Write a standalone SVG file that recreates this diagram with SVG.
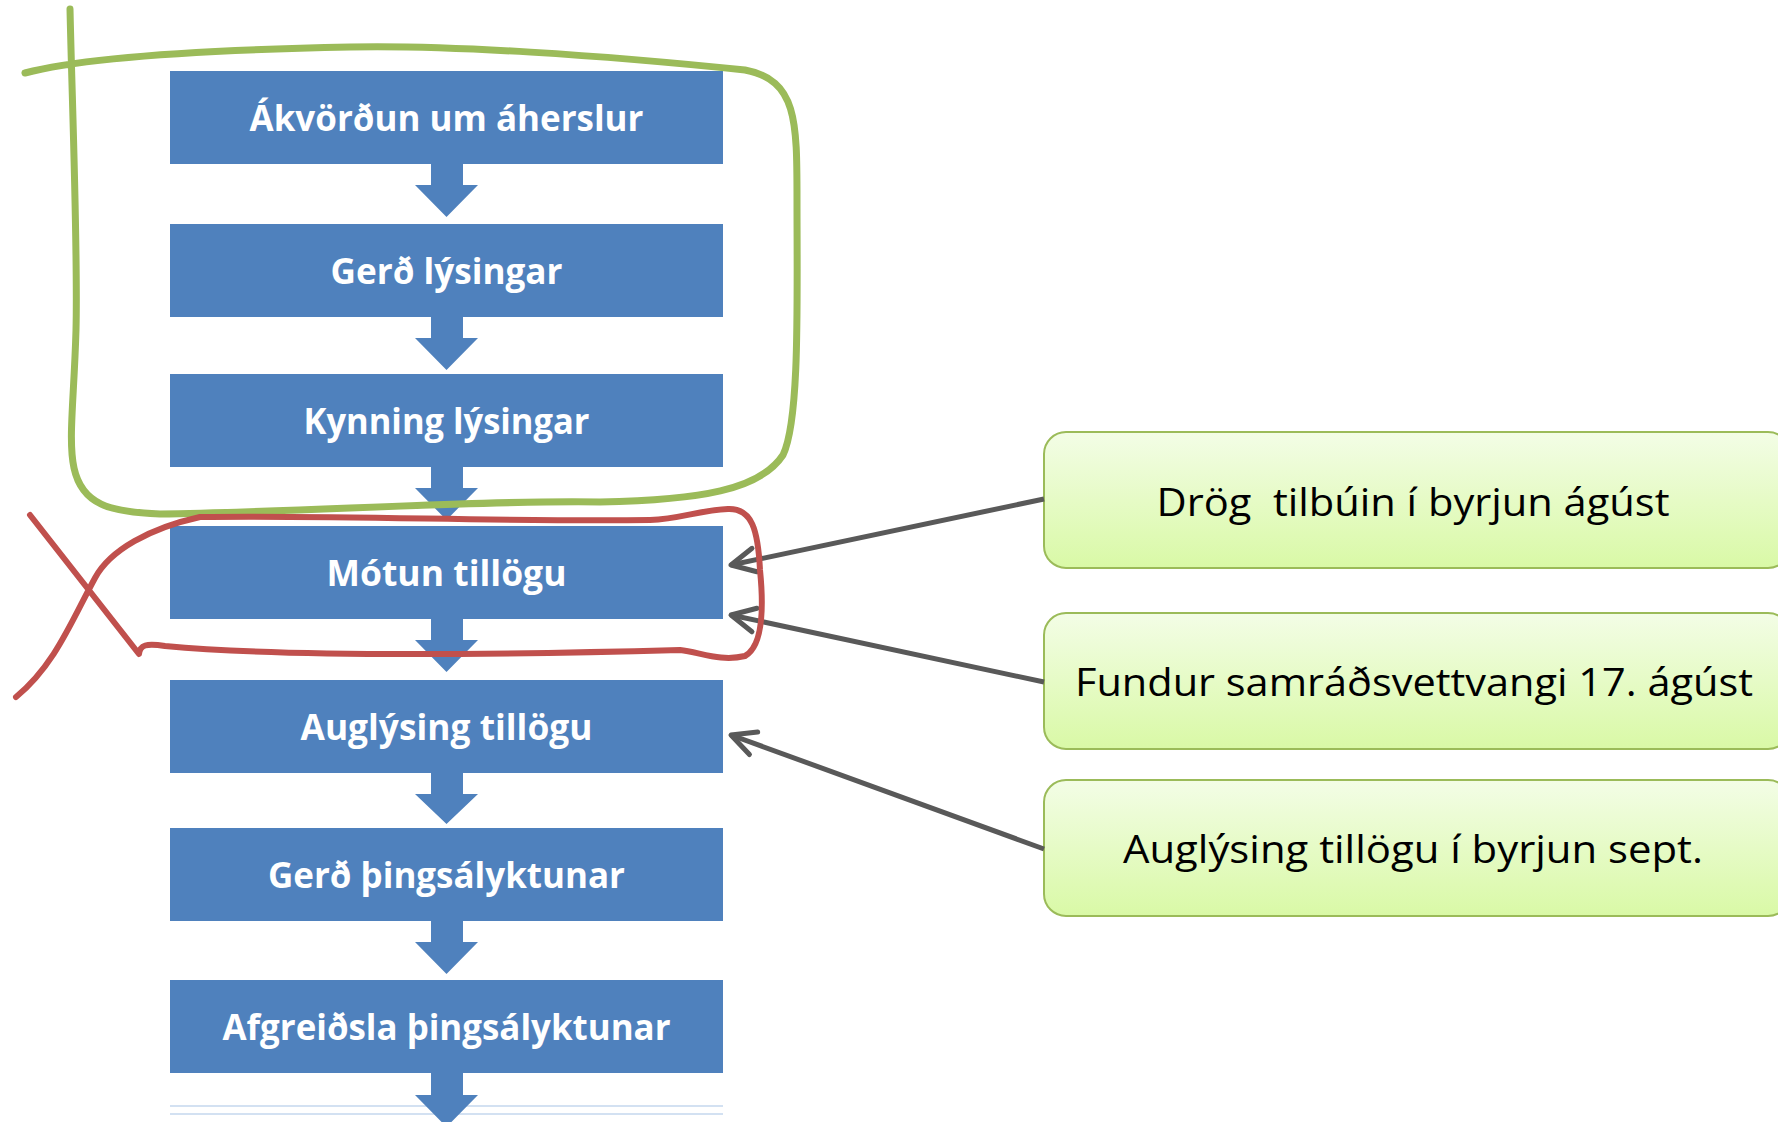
<svg xmlns="http://www.w3.org/2000/svg" width="1778" height="1122" viewBox="0 0 1778 1122">
<defs>
<style>
.step{fill:#4f81bd}
.st{font-family:"Open Sans","Liberation Sans",sans-serif;font-weight:bold;font-size:35px;fill:#fff;text-anchor:middle}
.note{stroke:#9bbb59;stroke-width:2;fill:url(#g)}
.nt{font-family:"Open Sans","Liberation Sans",sans-serif;font-size:39px;fill:#000;text-anchor:middle}
.flow{fill:#4f81bd}
.conn{stroke:#595959;stroke-width:5;fill:none;marker-end:url(#ah)}
.hand{fill:none;stroke-linecap:round;stroke-linejoin:round}
</style>
<linearGradient id="g" x1="0" y1="0" x2="0" y2="1">
<stop offset="0" stop-color="#f3fde6"/>
<stop offset="1" stop-color="#d9f9a6"/>
</linearGradient>
<marker id="ah" markerUnits="userSpaceOnUse" markerWidth="40" markerHeight="40" viewBox="-30 -20 40 40" refX="0" refY="0" orient="auto">
<path d="M-24,-12 L0,0 L-24,12" fill="none" stroke="#595959" stroke-width="5" stroke-linejoin="round" stroke-linecap="round"/>
</marker>
</defs>
<rect width="1778" height="1122" fill="#fff"/>
<g id="bottom-lines" stroke="#c5d7ee" stroke-width="1.5">
<line x1="170" y1="1106" x2="723" y2="1106"/>
<line x1="170" y1="1114" x2="723" y2="1114"/>
</g>
<g id="step1"><rect class="step" x="170" y="71" width="553" height="93"/><text class="st" x="446.5" y="130.5" textLength="394" lengthAdjust="spacingAndGlyphs">Ákvörðun um áherslur</text></g>
<g id="step2"><rect class="step" x="170" y="224" width="553" height="93"/><text class="st" x="446.5" y="283.5" textLength="232" lengthAdjust="spacingAndGlyphs">Gerð lýsingar</text></g>
<g id="step3"><rect class="step" x="170" y="374" width="553" height="93"/><text class="st" x="446.5" y="433.5" textLength="286" lengthAdjust="spacingAndGlyphs">Kynning lýsingar</text></g>
<g id="step4"><rect class="step" x="170" y="526" width="553" height="93"/><text class="st" x="446.5" y="585.5" textLength="240" lengthAdjust="spacingAndGlyphs">Mótun tillögu</text></g>
<g id="step5"><rect class="step" x="170" y="680" width="553" height="93"/><text class="st" x="446.5" y="739.5" textLength="292" lengthAdjust="spacingAndGlyphs">Auglýsing tillögu</text></g>
<g id="step6"><rect class="step" x="170" y="828" width="553" height="93"/><text class="st" x="446.5" y="887.5" textLength="357" lengthAdjust="spacingAndGlyphs">Gerð þingsályktunar</text></g>
<g id="step7"><rect class="step" x="170" y="980" width="553" height="93"/><text class="st" x="446.5" y="1039.5" textLength="448" lengthAdjust="spacingAndGlyphs">Afgreiðsla þingsályktunar</text></g>
<g id="flow-arrows">
<path class="flow" d="M431,164 V185 H415 L446.5,217 L478,185 H463 V164 Z"/>
<path class="flow" d="M431,317 V338 H415 L446.5,370 L478,338 H463 V317 Z"/>
<path class="flow" d="M431,467 V488 H415 L446.5,520 L478,488 H463 V467 Z"/>
<path class="flow" d="M431,619 V640 H415 L446.5,672 L478,640 H463 V619 Z"/>
<path class="flow" d="M431,773 V794 H415 L446.5,824 L478,794 H463 V773 Z"/>
<path class="flow" d="M431,921 V942 H415 L446.5,974 L478,942 H463 V921 Z"/>
<path class="flow" d="M431,1073 V1095 H415 L446.5,1127 L478,1095 H463 V1073 Z"/>
</g>
<g id="note1"><rect class="note" x="1044" y="432" width="746" height="136" rx="22"/><text class="nt" x="1413" y="516" textLength="513" lengthAdjust="spacingAndGlyphs" xml:space="preserve">Drög  tilbúin í byrjun ágúst</text></g>
<g id="note2"><rect class="note" x="1044" y="613" width="746" height="136" rx="22"/><text class="nt" x="1414" y="696" textLength="678" lengthAdjust="spacingAndGlyphs">Fundur samráðsvettvangi 17. ágúst</text></g>
<g id="note3"><rect class="note" x="1044" y="780" width="746" height="136" rx="22"/><text class="nt" x="1413" y="863" textLength="580" lengthAdjust="spacingAndGlyphs">Auglýsing tillögu í byrjun sept.</text></g>
<g id="connectors">
<line class="conn" x1="1044" y1="499" x2="731" y2="565"/>
<line class="conn" x1="1044" y1="682" x2="731" y2="615"/>
<line class="conn" x1="1044" y1="849" x2="731" y2="735"/>
</g>
<g id="annotations">
<path class="hand" stroke="#9bbb59" stroke-width="7" d="M70,9 C72,100 78,250 76,330 C74,400 68,440 74,468 C82,505 110,512 160,514 C300,512 480,500 600,502 C700,500 760,490 783,455 C800,420 797,300 797,200 C797,120 797,80 745,70 C600,55 450,45 350,47 C200,50 80,58 25,73"/>
<path class="hand" stroke="#c0504d" stroke-width="6" d="M30,515 L139,654 C140,645 146,643 165,646 C260,655 420,657 680,650 C700,652 720,662 745,656 C765,645 763,600 760,570 C758,530 752,508 728,509 C700,510 680,519 650,520 C500,522 350,515 200,517 C150,528 110,550 95,578 C72,620 55,665 16,697"/>
</g>
</svg>
